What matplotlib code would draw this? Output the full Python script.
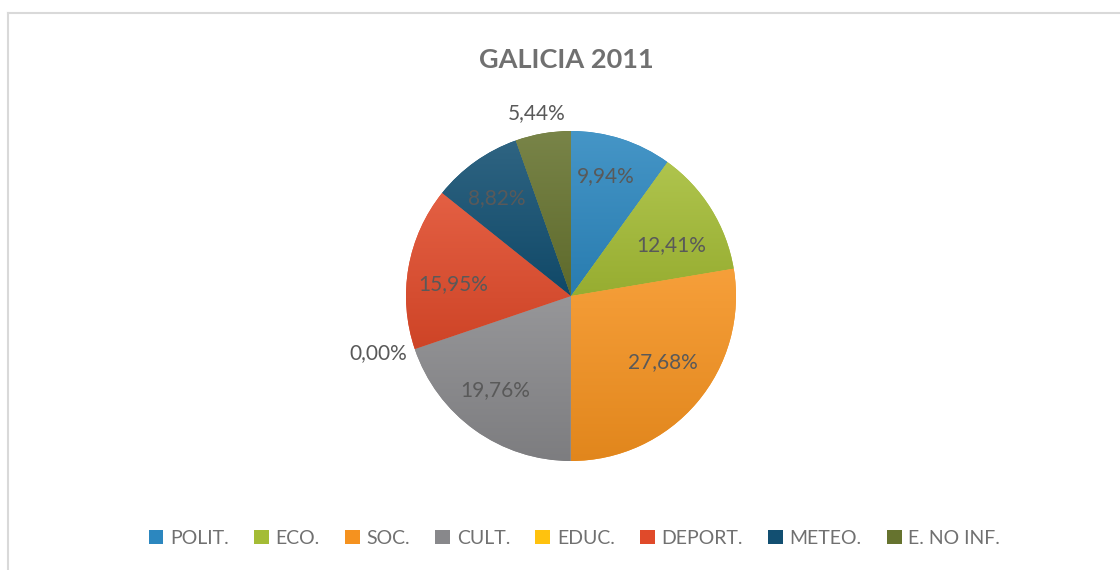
import matplotlib
matplotlib.use('Agg')
import matplotlib.pyplot as plt
import numpy as np
from matplotlib.patches import Patch
from matplotlib.lines import Line2D
from matplotlib.colors import to_rgb

# ---- data ----
categories = ['POLIT.', 'ECO.', 'SOC.', 'CULT.', 'EDUC.', 'DEPORT.', 'METEO.', 'E. NO INF.']
values = [9.94, 12.41, 27.68, 19.76, 0.00, 15.95, 8.82, 5.44]
value_labels = ['9,94%', '12,41%', '27,68%', '19,76%', '0,00%', '15,95%', '8,82%', '5,44%']
title = 'GALICIA 2011'

# ---- style ----
colors = ['#2C87BF', '#A4BC35', '#F5921F', '#88888B', '#FFC20E', '#E04A2A', '#124F71', '#66732F']
label_dist = [0.76, 0.68, 0.685, 0.73, 1.22, 0.715, 0.745, 1.13]
label_rot = [1.6, -4.9, 4.6, -3.3, -2.2, 4.0, 1.5, 0.7]
text_gray = '#595959'
light_gray = '#707070'

plt.rcParams['font.family'] = ['Lato', 'DejaVu Sans']

W, H = 1120, 570
fig = plt.figure(figsize=(W / 100, H / 100), dpi=100)

# chart frame (top and left edges visible)
fig.add_artist(Line2D([7.5 / W, 1.0], [1 - 12.5 / H, 1 - 12.5 / H], transform=fig.transFigure,
                      color='#D9D9D9', lw=1.5))
fig.add_artist(Line2D([7.5 / W, 7.5 / W], [0, 1 - 12.5 / H], transform=fig.transFigure,
                      color='#D9D9D9', lw=1.5))

cx, cy, R = 571, 296, 165
ax = fig.add_axes([(cx - R) / W, (H - cy - R) / H, 2 * R / W, 2 * R / H])
wedges, _ = ax.pie(values, colors=colors, startangle=90, counterclock=False, radius=1,
                   wedgeprops=dict(linewidth=0))


def mix(c, other, t):
    c = np.array(to_rgb(c)); o = np.array(to_rgb(other))
    return c * (1 - t) + o * t


# vertical gradient fill (lighter top, darker bottom)
for w, c, v in zip(wedges, colors, values):
    if v <= 0:
        continue
    ext = w.get_path().get_extents()
    top = mix(c, 'white', 0.12)
    bot = mix(c, 'black', 0.08)
    n = 64
    t = np.linspace(0, 1, n)[:, None]
    grad = (top[None, :] * (1 - t) + bot[None, :] * t)[:, None, :]
    im = ax.imshow(grad, extent=(ext.x0, ext.x1, ext.y0, ext.y1), origin='upper',
                   aspect='auto', interpolation='bilinear', zorder=w.get_zorder() + 0.1)
    im.set_clip_path(w)

ax.set_xlim(-1, 1)
ax.set_ylim(-1, 1)
ax.set_aspect('equal')
ax.axis('off')

# value labels
cum = np.cumsum(values)
for i, (v, lab) in enumerate(zip(values, value_labels)):
    mid = 90 - (cum[i] - v / 2) * 3.6 + label_rot[i]
    a = np.deg2rad(mid)
    d = label_dist[i]
    ax.text(d * np.cos(a), d * np.sin(a), lab, ha='center', va='center',
            fontsize=15, color=text_gray, clip_on=False, zorder=10)

fig.text(0.5 * (478 + 655) / W, 1 - 60 / H, title, ha='center', va='center',
         fontsize=19.5, fontweight='bold', color=light_gray)

handles = [Patch(facecolor=c, edgecolor='none') for c in colors]
fig.legend(handles, categories, loc='center', bbox_to_anchor=(574.5 / W, 1 - 538 / H),
           ncol=8, frameon=False, fontsize=14, labelcolor=light_gray,
           handlelength=0.75, handleheight=0.75, handletextpad=0.35, columnspacing=1.3)

fig.savefig('out.png', dpi=100, facecolor='white')
